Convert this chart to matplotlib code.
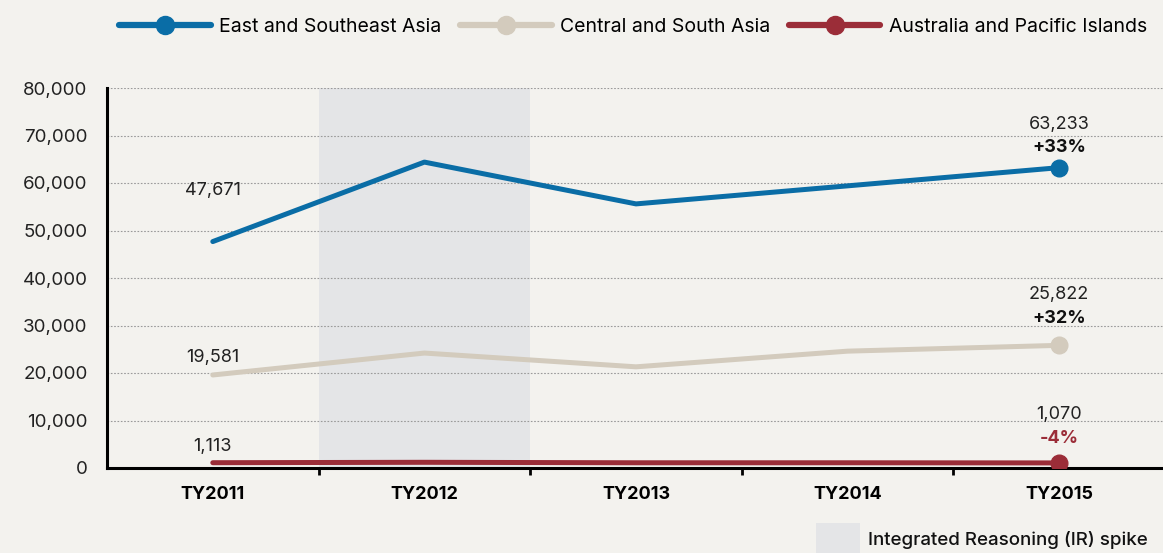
import matplotlib.pyplot as plt
from matplotlib.lines import Line2D
from matplotlib.patches import Rectangle
from matplotlib.ticker import FuncFormatter

plt.rcParams['font.family'] = ['Inter', 'DejaVu Sans']

# data
years = ['TY2011', 'TY2012', 'TY2013', 'TY2014', 'TY2015']
east_asia = [47671, 64400, 55600, 59400, 63233]
central_asia = [19581, 24200, 21300, 24600, 25822]
australia = [1113, 1200, 1100, 1100, 1070]
series_names = ['East and Southeast Asia', 'Central and South Asia', 'Australia and Pacific Islands']
changes = ['+33%', '+32%', '-4%']
ir_spike_year = 'TY2012'

bg = '#f3f2ee'
colors = ['#0a6da6', '#d3cbbd', '#9b2d38']
change_colors = ['#111111', '#111111', '#9b2d38']
# label offsets above the points, in pixels
first_off = [51, 17, 16]
last_off = [43, 51, 48]
pct_off = [20, 27, 24]

fig = plt.figure(figsize=(11.63, 5.53), dpi=100, facecolor=bg)
ax = fig.add_axes([107 / 1163, 1 - 468 / 553, 1058 / 1163, 380 / 553])
ax.set_facecolor(bg)

x = list(range(len(years)))
spike = years.index(ir_spike_year)
ax.axvspan(spike - 0.5, spike + 0.5, color='#e4e5e7', zorder=0, lw=0)

px = 0.72  # points per pixel
all_series = [east_asia, central_asia, australia]
for i, vals in enumerate(all_series):
    ax.plot(x, vals, color=colors[i], lw=3.6, solid_capstyle='round', zorder=3)
    ax.plot(x[-1], vals[-1], 'o', color=colors[i], ms=12, zorder=4)
    ax.annotate(f'{vals[0]:,}', (x[0], vals[0]), xytext=(0, first_off[i] * px), textcoords='offset points',
                ha='center', va='center', fontsize=13, color='#222222')
    ax.annotate(f'{vals[-1]:,}', (x[-1], vals[-1]), xytext=(0, last_off[i] * px), textcoords='offset points',
                ha='center', va='center', fontsize=13, color='#222222')
    ax.annotate(changes[i], (x[-1], vals[-1]), xytext=(0, pct_off[i] * px), textcoords='offset points',
                ha='center', va='center', fontsize=13, fontweight='bold', color=change_colors[i])

ax.set_xlim(-0.5, 4.5)
ax.set_ylim(0, 80000)
ax.set_yticks(range(0, 80001, 10000))
ax.yaxis.set_major_formatter(FuncFormatter(lambda v, p: f'{int(v):,}'))
ax.grid(axis='y', color='#9a9a9a', ls=(0, (1.5, 1.5)), lw=0.8)
ax.set_axisbelow(True)

ax.set_xticks(x)
ax.set_xticklabels(years, fontweight='bold', fontsize=13)
ax.set_xticks([i + 0.5 for i in x[:-1]], minor=True)
ax.tick_params(axis='x', which='major', length=0, pad=13)
ax.tick_params(axis='x', which='minor', length=5, width=2, color='black')
ax.tick_params(axis='y', length=0, pad=14, labelsize=13.5, labelcolor='#222222')

for s in ['top', 'right']:
    ax.spines[s].set_visible(False)
for s in ['left', 'bottom']:
    ax.spines[s].set_linewidth(2.2)
    ax.spines[s].set_color('black')

handles = [Line2D([0], [0], color=c, lw=4.5, marker='o', ms=13, solid_capstyle='round') for c in colors]
fig.legend(handles, series_names, loc='upper right', bbox_to_anchor=(1.0, 0.996), ncol=3,
           frameon=False, fontsize=14, handlelength=4.7, columnspacing=0.95,
           handletextpad=0.45, borderaxespad=0.4)

fig.patches.append(Rectangle((816 / 1163, 0), 44 / 1163, 30 / 553, transform=fig.transFigure,
                             color='#e4e5e7', lw=0))
fig.text(868 / 1163, 1 - 540 / 553, 'Integrated Reasoning (IR) spike', fontsize=13.5,
         fontweight='medium', va='center', ha='left', color='#111111')

fig.savefig('out.png', dpi=100, facecolor=bg)
